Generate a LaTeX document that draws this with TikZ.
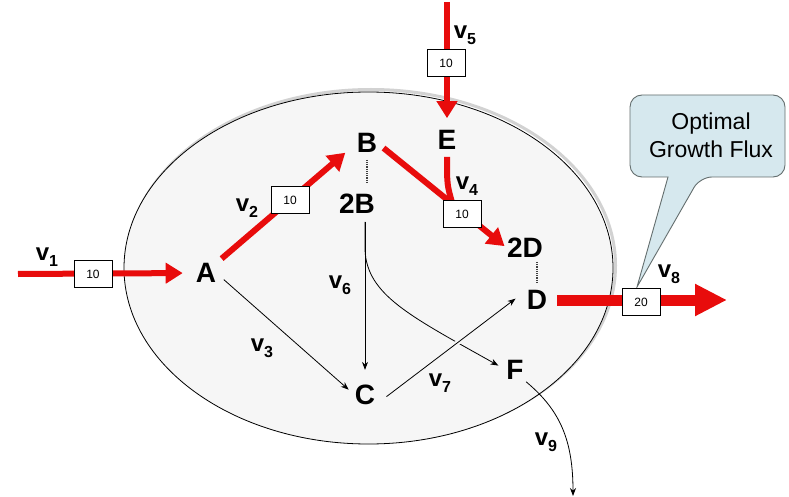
\documentclass[tikz,border=0pt]{standalone}
\usepackage{fontspec}
\setmainfont{Liberation Sans}
\usetikzlibrary{arrows.meta,calc}
\definecolor{fluxred}{RGB}{232,12,12}
\definecolor{cellfill}{RGB}{246,246,246}
\definecolor{callfill}{RGB}{214,232,238}
\definecolor{callline}{RGB}{100,110,110}
\newcommand{\vsub}[1]{v\raisebox{-6pt}{\fontsize{16}{16}\selectfont #1}}

\begin{document}
\begin{tikzpicture}[x=1pt,y=-1pt,
  met/.style={font=\fontsize{28}{28}\selectfont\bfseries, inner sep=0pt},
  vlab/.style={font=\fontsize{24}{24}\selectfont\bfseries, inner sep=0pt},
  fluxbox/.style={draw=black, line width=0.8pt, fill=white, minimum width=38pt,
    minimum height=27pt, inner sep=0pt, font=\fontsize{12}{12}\selectfont},
  flux/.style={draw=fluxred, line width=6pt, -{Triangle[length=17pt,width=20pt]}},
  bigflux/.style={draw=fluxred, line width=11pt, -{Triangle[length=32pt,width=30pt]}},
  rxn/.style={draw=black, line width=0.8pt, -{Stealth[length=8pt,width=6pt]}},
  pair/.style={draw=black!75, line width=1.2pt, densely dotted},
]
\useasboundingbox (0,0) rectangle (789,497);
\fill[white] (0,0) rectangle (789,497);

% cell boundary with its soft shadow
\draw[gray!35, line width=3pt] (371,265.5) ellipse [x radius=244.5, y radius=176];
\draw[fill=cellfill, line width=0.8pt] (368.5,268) ellipse [x radius=244.5, y radius=176];

% metabolites
\node[met] (A)  at (206,273) {A};
\node[met] (B)  at (367,143) {B};
\node[met] (b2) at (357,204) {2B};
\node[met] (E)  at (447,140) {E};
\node[met] (d2) at (525,248) {2D};
\node[met] (D)  at (537,300) {D};
\node[met] (C)  at (365,395) {C};
\node[met] (F)  at (515,370) {F};

% free ends of the exchange fluxes
\coordinate (v1in)  at (18,274);
\coordinate (v5in)  at (447,2);
\coordinate (v8out) at (727,300);
\coordinate (v9out) at (573,496);
\coordinate (calltip) at (637,287);

% stoichiometric pairings
\draw[pair, shorten <=7pt, shorten >=12pt] (B.south) -- (B.south |- b2.north);
\draw[pair, shorten <=4pt, shorten >=7pt] (d2.south -| D.north) -- (D.north);

% thin (inactive) reactions
\draw[rxn, shorten <=10pt, shorten >=8pt] (A.east) -- (C.west);
\coordinate (b2foot) at (C |- b2.south);
\draw[rxn, shorten <=8pt, shorten >=15pt] (b2foot) -- (C.north);
\draw[rxn, shorten <=8pt, shorten >=9pt] (b2foot) -- ++(0,36)
  .. controls (367,295) and (410,316) .. (F.west);
\draw[rxn, preaction={draw=cellfill, line width=5pt, -, shorten <=30pt, shorten >=30pt},
  shorten <=14pt, shorten >=14pt] (C.south east) -- (D.north west);
\draw[rxn, shorten <=3pt] (F.south east) .. controls (560,410) and (573,440) .. (v9out);

% optimal flux route
\draw[flux, shorten >=13pt] (v1in) -- (A.west);
\draw[flux, shorten <=7pt, shorten >=15pt] (A.north east) -- (B.west);
\draw[flux, shorten >=12pt] (v5in) -- (E.north);
\coordinate (j4) at ($(B.east)!0.58!(d2.west)$);
\draw[fluxred, line width=6pt, shorten <=7pt] (E.south) .. controls +(0,35) .. (j4);
\draw[flux, shorten <=8pt, shorten >=3pt] (B.east) -- (d2.west);
\draw[bigflux, shorten <=10pt] (D.east) -- (v8out);

% callout
\draw[fill=callfill, draw=callline, line width=0.9pt]
  (668,177) [rounded corners=12pt] -- (630,177) -- (630,95) -- (785,95)
  -- (785,177) -- (700,177) [sharp corners] -- (calltip) -- cycle;
\node[font=\fontsize{23}{28}\selectfont, align=center] (calltext) at (711,135)
  {Optimal\\Growth Flux};

% flux values
\node[fluxbox] (f1) at (93,274) {10};
\node[fluxbox] (f2) at (290,200) {10};
\node[fluxbox] (f5) at (446,63) {10};
\node[fluxbox] (f4) at (462,214) {10};
\node[fluxbox] (f8) at (641,302) {20};

% reaction labels
\node[vlab] (l1) at (47,257) {\vsub{1}};
\node[vlab] (l2) at (247,208) {\vsub{2}};
\node[vlab] (l3) at (262,348) {\vsub{3}};
\node[vlab] (l4) at (467,186) {\vsub{4}};
\node[vlab] (l5) at (465,35) {\vsub{5}};
\node[vlab] (l6) at (340,285) {\vsub{6}};
\node[vlab] (l7) at (440,383) {\vsub{7}};
\node[vlab] (l8) at (669,274) {\vsub{8}};
\node[vlab] (l9) at (546,442) {\vsub{9}};
\end{tikzpicture}
\end{document}
